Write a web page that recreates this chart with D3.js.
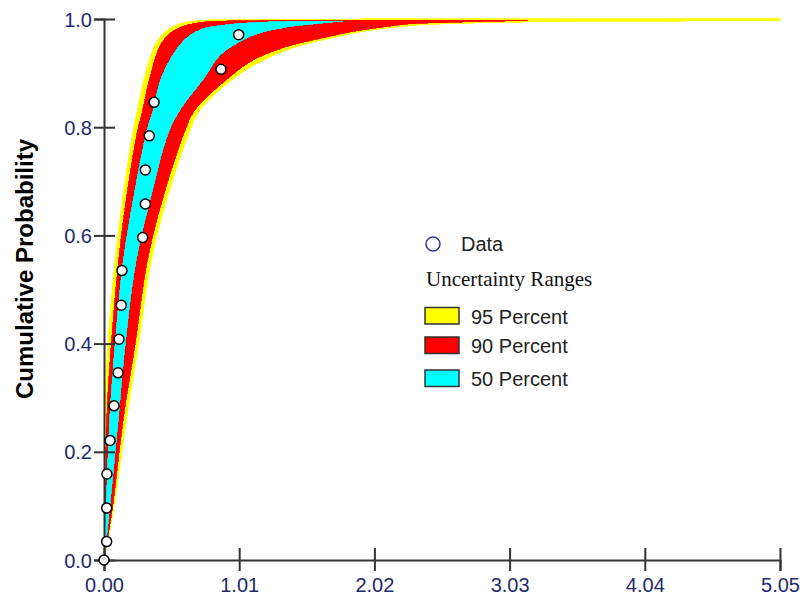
<!DOCTYPE html>
<html>
<head>
<meta charset="utf-8">
<script src="https://cdn.jsdelivr.net/npm/d3@7"></script>
<style>
  html, body { margin: 0; padding: 0; background: #fff; }
  svg { display: block; }
</style>
</head>
<body>
<svg id="chart" width="800" height="596"></svg>
<script>
// Tick values
const xTicks = [0, 1.01, 2.02, 3.03, 4.04, 5.05];
const yTicks = [0, 0.2, 0.4, 0.6, 0.8, 1.0];

// Observed data: [value, cumulative probability]
const dataPoints = [
  [0.000, 0.000], [0.020, 0.034], [0.020, 0.096], [0.022, 0.159],
  [0.045, 0.221], [0.075, 0.285], [0.105, 0.346], [0.112, 0.408],
  [0.129, 0.471], [0.134, 0.535], [0.289, 0.596], [0.309, 0.658],
  [0.309, 0.721], [0.338, 0.784], [0.374, 0.846], [0.874, 0.907],
  [1.006, 0.971]
];

// Uncertainty band boundaries: [value, cumulative probability]
const lower95 = [
  [0, 0], [0.001, 0.091], [0.006, 0.270], [0.030, 0.401], [0.082, 0.551],
  [0.138, 0.665], [0.214, 0.789], [0.250, 0.832], [0.302, 0.893],
  [0.390, 0.956], [0.474, 0.980], [0.585, 0.9926], [0.717, 0.9972],
  [0.941, 0.9989], [5.05, 1.0]
];
const upper95 = [
  [0, 0], [0.069, 0.091], [0.174, 0.270], [0.259, 0.401], [0.351, 0.551],
  [0.467, 0.665], [0.635, 0.789], [0.717, 0.832], [0.986, 0.893],
  [1.190, 0.924], [1.440, 0.949], [1.688, 0.964], [1.937, 0.977],
  [2.187, 0.985], [2.361, 0.989], [2.884, 0.9933], [3.519, 0.9954],
  [5.05, 0.9967]
];
const lower90 = [
  [0, 0], [0.0075, 0.091], [0.022, 0.270], [0.055, 0.401], [0.108, 0.551],
  [0.165, 0.665], [0.247, 0.789], [0.289, 0.832], [0.344, 0.893],
  [0.431, 0.956], [0.530, 0.980], [0.680, 0.9921], [0.829, 0.9954],
  [1.165, 0.9972], [3.160, 0.9976]
];
const upper90 = [
  [0, 0], [0.060, 0.091], [0.149, 0.270], [0.234, 0.401], [0.322, 0.551],
  [0.435, 0.665], [0.598, 0.789], [0.680, 0.832], [0.941, 0.893],
  [1.115, 0.924], [1.365, 0.949], [1.614, 0.964], [1.862, 0.977],
  [2.112, 0.986], [2.286, 0.991], [2.547, 0.9935], [3.160, 0.9972]
];
const lower50 = [
  [0, 0], [0.015, 0.091], [0.045, 0.270], [0.084, 0.401], [0.143, 0.551],
  [0.218, 0.665], [0.316, 0.789], [0.368, 0.832], [0.431, 0.893],
  [0.580, 0.956], [0.717, 0.980], [0.904, 0.9889], [1.165, 0.9939],
  [1.464, 0.9958], [1.785, 0.9963]
];
const upper50 = [
  [0, 0], [0.040, 0.091], [0.110, 0.270], [0.159, 0.401], [0.238, 0.551],
  [0.343, 0.665], [0.480, 0.789], [0.568, 0.832], [0.755, 0.893],
  [0.867, 0.933], [1.115, 0.970], [1.365, 0.985], [1.614, 0.992],
  [1.785, 0.9963]
];

const bandLabels = ["95 Percent", "90 Percent", "50 Percent"];
const bandColors = ["#ffff00", "#ff0000", "#00ffff"];
const bands = [
  { lo: lower95, hi: upper95 },
  { lo: lower90, hi: upper90 },
  { lo: lower50, hi: upper50 }
];

const svg = d3.select("#chart");

const x = d3.scaleLinear().domain([0, 5.05]).range([104, 780]);
const y = d3.scaleLinear().domain([0, 1]).range([560, 19]);

const edge = d3.line()
  .x(d => x(d[0]))
  .y(d => y(d[1]))
  .curve(d3.curveCatmullRom.alpha(0.5));

// Bands, widest first
const bandLayer = svg.append("g");
bands.forEach((b, i) => {
  const path = edge(b.lo) + "L" + edge(b.hi.slice().reverse()).slice(1) + "Z";
  bandLayer.append("path")
    .attr("d", path)
    .attr("fill", bandColors[i])
    .attr("stroke", bandColors[i])
    .attr("stroke-width", 0.8)
    .attr("shape-rendering", "crispEdges");
});

// Axes
const axisColor = "#333";
const labelColor = "#1f2a6b";

const gx = svg.append("g")
  .attr("transform", `translate(0,${y(0)})`)
  .call(d3.axisBottom(x).tickValues(xTicks).tickFormat(d3.format(".2f")).tickSizeOuter(0).tickSize(11));
gx.select(".domain").attr("stroke", axisColor).attr("stroke-width", 2);
gx.selectAll(".tick line").attr("y1", -12).attr("y2", 11).attr("stroke", axisColor).attr("stroke-width", 2);
gx.selectAll(".tick text")
  .attr("y", 32).attr("dy", 0)
  .attr("fill", labelColor)
  .style("font-family", "'Liberation Sans', Arial, sans-serif")
  .style("font-size", "20px");

const gy = svg.append("g")
  .attr("transform", `translate(${x(0)},0)`)
  .call(d3.axisLeft(y).tickValues(yTicks).tickFormat(d3.format(".1f")).tickSizeOuter(0).tickSize(10));
gy.select(".domain").attr("stroke", axisColor).attr("stroke-width", 2);
gy.selectAll(".tick line").attr("x1", -10).attr("x2", 11).attr("stroke", axisColor).attr("stroke-width", 2);
gy.selectAll(".tick text")
  .attr("x", -12).attr("dy", "0.35em")
  .attr("fill", labelColor)
  .style("font-family", "'Liberation Sans', Arial, sans-serif")
  .style("font-size", "20px");

svg.append("text")
  .attr("transform", "translate(33,269) rotate(-90)")
  .attr("text-anchor", "middle")
  .style("font-family", "'Liberation Sans', Arial, sans-serif")
  .style("font-size", "24px")
  .style("font-weight", "bold")
  .attr("fill", "#000")
  .text("Cumulative Probability");

// Observed points
svg.append("g").selectAll("circle")
  .data(dataPoints)
  .join("circle")
  .attr("cx", d => x(d[0]))
  .attr("cy", d => y(d[1]))
  .attr("r", 5)
  .attr("fill", "#fff")
  .attr("stroke", "#000")
  .attr("stroke-width", 1.5);

// Legend
const legend = svg.append("g");
legend.append("circle")
  .attr("cx", 433).attr("cy", 244).attr("r", 7)
  .attr("fill", "#fff").attr("stroke", "#3535a5").attr("stroke-width", 1.5);
legend.append("text")
  .attr("x", 461).attr("y", 251)
  .style("font-family", "'Liberation Sans', Arial, sans-serif")
  .style("font-size", "20px")
  .attr("fill", "#222")
  .text("Data");
legend.append("text")
  .attr("x", 426).attr("y", 286)
  .style("font-family", "'Liberation Serif', 'Times New Roman', serif")
  .style("font-size", "21px")
  .attr("fill", "#111")
  .text("Uncertainty Ranges");

const rowY = [307.5, 337, 370];
bandLabels.forEach((label, i) => {
  legend.append("rect")
    .attr("x", 425).attr("y", rowY[i])
    .attr("width", 34).attr("height", 16.5)
    .attr("fill", bandColors[i])
    .attr("stroke", "#333").attr("stroke-width", 1.5);
  legend.append("text")
    .attr("x", 471).attr("y", rowY[i] + 16)
    .style("font-family", "'Liberation Sans', Arial, sans-serif")
    .style("font-size", "20px")
    .attr("fill", "#222")
    .text(label);
});
</script>
</body>
</html>
